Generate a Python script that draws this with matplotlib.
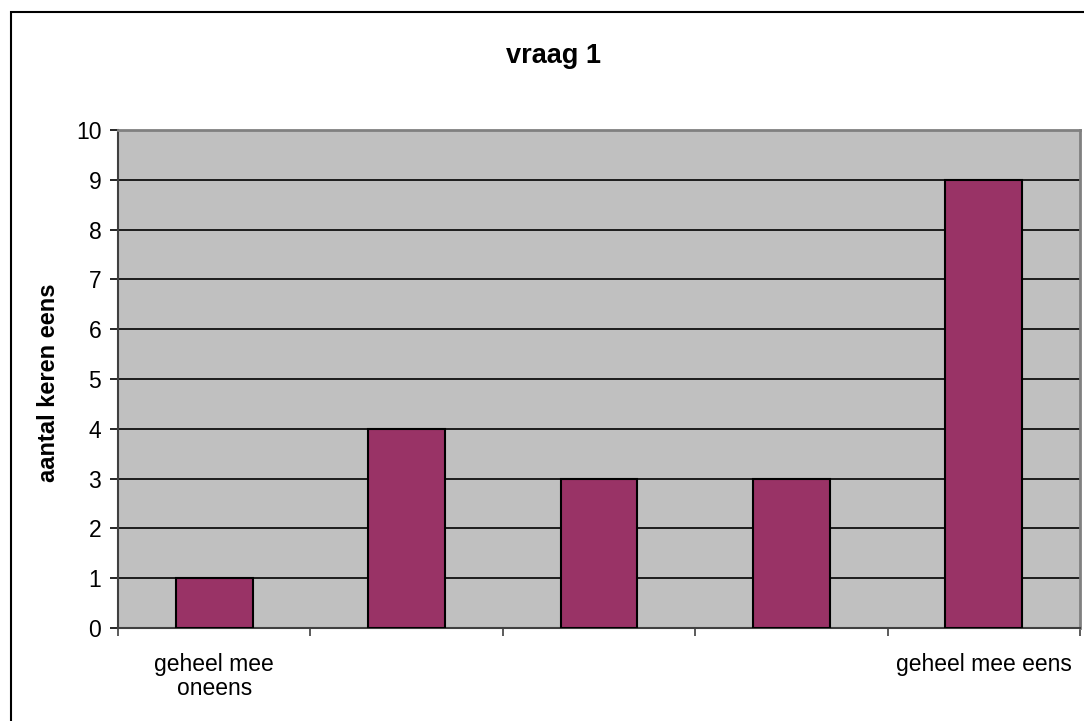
import matplotlib
matplotlib.use("Agg")
import matplotlib.pyplot as plt
from matplotlib.patches import Rectangle
import numpy as np

plt.rcParams['font.family'] = ['Liberation Sans', 'DejaVu Sans']

# Data
categories = ["geheel mee\noneens", "", "", "", "geheel mee eens"]
counts = [1, 4, 3, 3, 9]
y_ticks = list(range(0, 11))

title_text = "vraag 1"
ylabel_text = "aantal keren eens"

W, H = 1084, 721
fig = plt.figure(figsize=(W / 100, H / 100), dpi=100)
fig.patch.set_facecolor("white")

# Chart area frame (left and top edges visible)
fig.add_artist(Rectangle((11 / W, -0.1), 1.2, (1 - 12 / H) + 0.1,
                         transform=fig.transFigure, fill=False,
                         edgecolor="black", linewidth=1.5))

left, right, top, bottom = 118, 1080, 130, 628
ax = fig.add_axes([left / W, 1 - bottom / H, (right - left) / W, (bottom - top) / H])
ax.set_facecolor("#C0C0C0")

x = np.arange(len(counts)) + 0.5
ax.bar(x, counts, width=0.4, color="#993366", edgecolor="black", linewidth=1.5, zorder=3)

ax.set_xlim(0, len(counts))
ax.set_ylim(0, 10)
ax.set_yticks(y_ticks)
ax.yaxis.grid(True, color="black", linewidth=1.2, zorder=1)
ax.set_axisbelow(True)

# Category boundary ticks, labels centred on categories
ax.set_xticks(np.arange(len(counts) + 1))
ax.set_xticklabels([])
ax.set_xticks(x, minor=True)
ax.set_xticklabels(categories, minor=True, fontsize=16.5, linespacing=1.05)
ax.tick_params(axis="x", which="minor", length=0, pad=18)
ax.tick_params(axis="x", which="major", length=6, width=1.2, color="#404040")
ax.tick_params(axis="y", labelsize=16.5, length=6, width=1.2, pad=6)

for side in ["top", "right"]:
    ax.spines[side].set_color("#808080")
    ax.spines[side].set_linewidth(2)
ax.spines["left"].set_color("#404040")
ax.spines["left"].set_linewidth(1.5)
ax.spines["bottom"].set_color("#404040")
ax.spines["bottom"].set_linewidth(1.5)

fig.text(49 / W, 1 - 383 / H, ylabel_text, fontsize=17, fontweight="bold",
         rotation=90, ha="center", va="center")
fig.text(553 / W, 1 - 56 / H, title_text, fontsize=19.5, fontweight="bold",
         ha="center", va="center")

fig.savefig("out.png", dpi=100)
